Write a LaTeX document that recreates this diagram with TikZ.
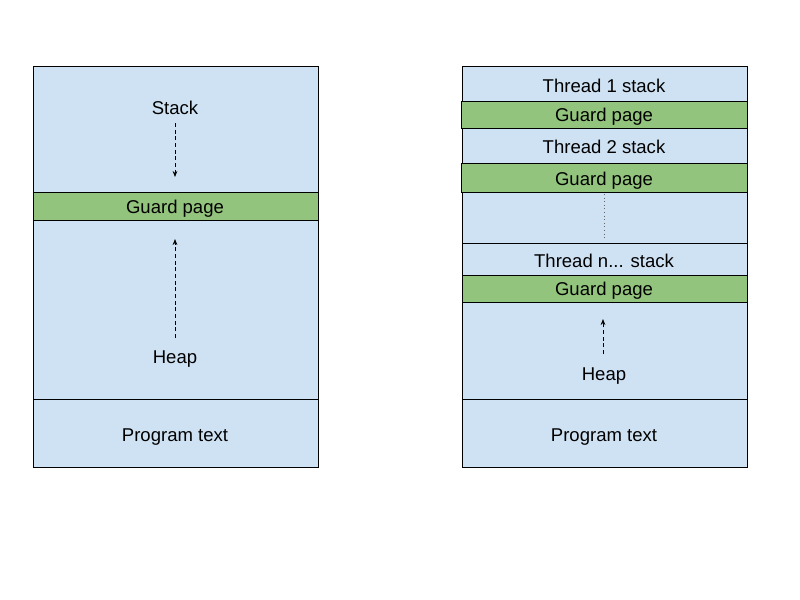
\documentclass[tikz,border=0pt]{standalone}
\usepackage{fontspec}
\setmainfont{Liberation Sans}
\usetikzlibrary{arrows.meta}
\definecolor{lb}{HTML}{CFE2F3}
\definecolor{gp}{HTML}{93C47D}
\begin{document}
\begin{tikzpicture}[x=0.75pt,y=-0.75pt,
  region/.style={draw=black, line width=0.75pt, fill=lb},
  guard/.style={draw=black, line width=0.75pt, fill=gp},
  sep/.style={draw=black, line width=0.75pt},
  lbl/.style={font=\fontsize{13.9pt}{16pt}\selectfont, inner sep=0pt, yshift=-1.2pt},
  flow/.style={dash pattern=on 3pt off 2pt, line width=0.6pt, -{Stealth[length=4.5pt,width=3.5pt]}},
  dots/.style={draw=black!60, dotted, line width=0.7pt}]
\useasboundingbox (0,0) rectangle (800,600);
% left column
\path[region] (33,66) rectangle (318,467);
\draw[sep] (33,399) -- (318,399);
\path[guard] (33,192) rectangle (318,220);
\node[lbl] (stack) at (175,106) {Stack};
\node[lbl] (lguard) at (175,207) {Guard page};
\node[lbl] (lheap) at (175,357) {Heap};
\node[lbl] (lprog) at (175,435) {Program text};
\coordinate (s1) at (175,123);
\coordinate (s2) at (175,177);
\draw[flow] (s1) -- (s2);
\coordinate (h1) at (175,338);
\coordinate (h2) at (175,239);
\draw[flow] (h1) -- (h2);
% right column
\path[region] (462,66) rectangle (747,467);
\draw[sep] (462,243) -- (747,243);
\draw[sep] (462,399) -- (747,399);
\path[guard] (461,101) rectangle (747,128);
\path[guard] (461,163) rectangle (747,192);
\path[guard] (462,275) rectangle (747,302);
\node[lbl] (t1) at (604,84) {Thread 1 stack};
\node[lbl] (g1) at (604,115) {Guard page};
\node[lbl] (t2) at (604,145) {Thread 2 stack};
\node[lbl] (g2) at (604,179) {Guard page};
\node[lbl] (tn) at (604,259) {Thread n... stack};
\node[lbl] (g3) at (604,289) {Guard page};
\node[lbl] (rheap) at (604,374) {Heap};
\node[lbl] (rprog) at (604,435) {Program text};
\coordinate (d1) at (604,194);
\coordinate (d2) at (604,238);
\draw[dots] (d1) -- (d2);
\coordinate (r1) at (603,354);
\coordinate (r2) at (603,319);
\draw[flow] (r1) -- (r2);
\end{tikzpicture}
\end{document}
